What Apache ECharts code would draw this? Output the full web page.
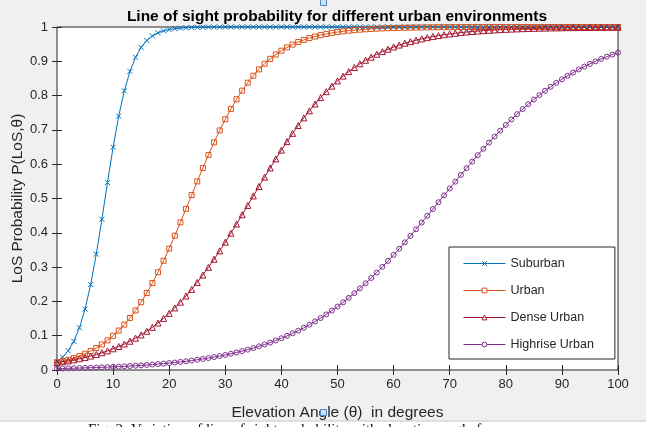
<!DOCTYPE html>
<html>
<head>
<meta charset="utf-8">
<script src="https://cdn.jsdelivr.net/npm/echarts@6/dist/echarts.min.js"></script>
<style>html,body{margin:0;padding:0;background:#f0f0f0;}#c{width:646px;height:427px;}</style>
</head>
<body>
<div id="c"></div>
<script>
const angles = Array.from({length: 101}, (_, i) => i);
const seriesNames = ['Suburban', 'Urban', 'Dense Urban', 'Highrise Urban'];
const xTicks = [0, 10, 20, 30, 40, 50, 60, 70, 80, 90, 100];
const yTicks = [0, 0.1, 0.2, 0.3, 0.4, 0.5, 0.6, 0.7, 0.8, 0.9, 1];

const suburban = [
0.0245,0.0372,0.0561,0.0837,0.1231,0.1775,0.2491,0.3377,0.4394,0.5465,
0.6494,0.7401,0.8140,0.8706,0.9118,0.9408,0.9607,0.9741,0.9830,0.9889,
0.9927,0.9953,0.9969,0.9980,0.9987,0.9991,0.9994,0.9996,0.9998,0.9998,
0.9999,0.9999,0.9999,1,1,1,1,1,1,1,
1,1,1,1,1,1,1,1,1,1,
1,1,1,1,1,1,1,1,1,1,
1,1,1,1,1,1,1,1,1,1,
1,1,1,1,1,1,1,1,1,1,
1,1,1,1,1,1,1,1,1,1,
1,1,1,1,1,1,1,1,1,1,
1];
const urban = [
0.0219,0.0256,0.0299,0.0349,0.0407,0.0474,0.0552,0.0641,0.0745,0.0863,
0.0997,0.1150,0.1324,0.1518,0.1736,0.1978,0.2244,0.2535,0.2849,0.3186,
0.3542,0.3917,0.4305,0.4699,0.5099,0.5498,0.5890,0.6271,0.6637,0.6984,
0.7310,0.7613,0.7892,0.8145,0.8375,0.8581,0.8765,0.8929,0.9072,0.9198,
0.9309,0.9405,0.9488,0.9561,0.9623,0.9677,0.9723,0.9763,0.9798,0.9827,
0.9852,0.9874,0.9892,0.9908,0.9922,0.9933,0.9943,0.9951,0.9958,0.9965,
0.9970,0.9974,0.9978,0.9981,0.9984,0.9986,0.9988,0.9990,0.9992,0.9993,
0.9994,0.9995,0.9996,0.9996,0.9997,0.9997,0.9998,0.9998,0.9998,0.9999,
0.9999,0.9999,0.9999,0.9999,0.9999,0.9999,0.9999,0.9999,0.9999,0.9999,
1,1,1,1,1,1,1,1,1,1,
1];
const denseUrban = [
0.0215,0.0239,0.0266,0.0296,0.0329,0.0366,0.0407,0.0452,0.0502,0.0557,
0.0618,0.0685,0.0758,0.0839,0.0928,0.1024,0.1130,0.1245,0.1370,0.1505,
0.1651,0.1809,0.1977,0.2158,0.2350,0.2553,0.2768,0.2993,0.3229,0.3474,
0.3727,0.3989,0.4255,0.4525,0.4798,0.5074,0.5349,0.5621,0.5890,0.6153,
0.6410,0.6659,0.6899,0.7129,0.7349,0.7557,0.7755,0.7941,0.8115,0.8277,
0.8428,0.8569,0.8699,0.8818,0.8928,0.9029,0.9121,0.9205,0.9282,0.9352,
0.9416,0.9473,0.9526,0.9573,0.9616,0.9654,0.9689,0.9721,0.9749,0.9775,
0.9798,0.9818,0.9837,0.9854,0.9869,0.9882,0.9894,0.9905,0.9915,0.9924,
0.9932,0.9939,0.9945,0.9951,0.9956,0.9960,0.9965,0.9968,0.9972,0.9975,
0.9977,0.9980,0.9982,0.9984,0.9985,0.9987,0.9988,0.9989,0.9991,0.9992,
0.9992];
const highriseUrban = [
0.0041,0.0045,0.0049,0.0053,0.0057,0.0062,0.0067,0.0072,0.0078,0.0085,
0.0092,0.0099,0.0107,0.0116,0.0126,0.0136,0.0147,0.0159,0.0173,0.0187,
0.0202,0.0218,0.0236,0.0255,0.0276,0.0298,0.0322,0.0348,0.0376,0.0406,
0.0438,0.0473,0.0510,0.0551,0.0594,0.0640,0.0690,0.0743,0.0799,0.0861,
0.0925,0.0995,0.1069,0.1148,0.1231,0.1320,0.1415,0.1515,0.1620,0.1732,
0.1850,0.1973,0.2103,0.2239,0.2381,0.2529,0.2683,0.2843,0.3009,0.3180,
0.3356,0.3536,0.3722,0.3910,0.4102,0.4297,0.4494,0.4693,0.4892,0.5092,
0.5292,0.5490,0.5688,0.5883,0.6075,0.6264,0.6449,0.6630,0.6806,0.6978,
0.7144,0.7304,0.7459,0.7607,0.7750,0.7886,0.8017,0.8141,0.8259,0.8371,
0.8477,0.8578,0.8672,0.8762,0.8846,0.8925,0.8999,0.9069,0.9135,0.9196,
0.9253];

const values = [suburban, urban, denseUrban, highriseUrban];
const colors = ['#0072BD', '#D95319', '#A2142F', '#7E2F8E'];
const symbols = ['path://M0,0L10,10M10,0L0,10', 'rect', 'triangle', 'circle'];
const symbolSizes = [5, 5, 6, 5];

const FONT = 'Liberation Sans, Arial, sans-serif';
const AX = '#262626';

const chart = echarts.init(document.getElementById('c'), null, {renderer: 'canvas'});

const series = seriesNames.map((name, k) => ({
  name: name,
  type: 'line',
  xAxisIndex: 0,
  yAxisIndex: 0,
  data: angles.map((a, i) => [a, values[k][i]]),
  symbol: symbols[k],
  symbolSize: symbolSizes[k],
  showAllSymbol: true,
  clip: false,
  animation: false,
  lineStyle: {color: colors[k], width: 1},
  itemStyle: {color: 'rgba(255,255,255,0)', borderColor: colors[k], borderWidth: 1},
  emphasis: {disabled: true}
}));

const option = {
  backgroundColor: '#f0f0f0',
  animation: false,
  title: {
    text: 'Line of sight probability for different urban environments',
    left: 332, top: 4, textAlign: 'center',
    textStyle: {fontFamily: FONT, fontSize: 15.5, fontWeight: 'bold', color: '#000'}
  },
  grid: {
    left: 57, right: 28, top: 27, bottom: 57,
    outerBoundsMode: 'none',
    containLabel: false,
    show: true, backgroundColor: '#ffffff', borderColor: AX, borderWidth: 1
  },
  legend: {
    data: seriesNames.map((n, k) => ({
      name: n,
      lineStyle: {color: colors[k], width: 1},
      itemStyle: {color: '#ffffff', borderColor: colors[k], borderWidth: 1}
    })),
    orient: 'vertical',
    left: 449, top: 247,
    padding: [10, 21, 8, 14],
    itemWidth: 42, itemHeight: 6, itemGap: 14,
    backgroundColor: '#ffffff',
    borderColor: AX, borderWidth: 1, borderRadius: 0,
    textStyle: {fontFamily: FONT, fontSize: 12.5, color: AX}
  },
  xAxis: [{
    type: 'value', min: xTicks[0], max: xTicks[xTicks.length - 1], interval: 10,
    position: 'bottom',
    name: 'Elevation Angle (\u03b8)  in degrees',
    nameLocation: 'middle', nameGap: 35,
    nameMoveOverlap: false,
    nameTextStyle: {fontFamily: FONT, fontSize: 15.5, color: AX},
    axisLine: {show: false},
    axisTick: {show: true, inside: true, length: 5, lineStyle: {color: AX}},
    axisLabel: {fontFamily: FONT, fontSize: 13, color: AX, margin: 8},
    splitLine: {show: false}
  }, {
    type: 'value', min: xTicks[0], max: xTicks[xTicks.length - 1], interval: 10,
    position: 'top',
    axisLine: {show: false},
    axisTick: {show: true, inside: true, length: 5, lineStyle: {color: AX}},
    axisLabel: {show: false},
    splitLine: {show: false}
  }],
  yAxis: [{
    type: 'value', min: yTicks[0], max: yTicks[yTicks.length - 1], interval: 0.1,
    position: 'left',
    name: 'LoS Probability P(LoS,\u03b8)',
    nameLocation: 'middle', nameGap: 31, nameRotate: 90,
    nameMoveOverlap: false,
    nameTextStyle: {fontFamily: FONT, fontSize: 15.5, color: AX},
    axisLine: {show: false},
    axisTick: {show: true, inside: true, length: 5, lineStyle: {color: AX}},
    axisLabel: {fontFamily: FONT, fontSize: 13, color: AX, margin: 9,
      formatter: v => String(Math.round(v * 10) / 10)},
    splitLine: {show: false}
  }, {
    type: 'value', min: yTicks[0], max: yTicks[yTicks.length - 1], interval: 0.1,
    position: 'right',
    axisLine: {show: false},
    axisTick: {show: true, inside: true, length: 5, lineStyle: {color: AX}},
    axisLabel: {show: false},
    splitLine: {show: false}
  }],
  series: series,
  graphic: [
    {type: 'rect', left: 0, top: 421, shape: {width: 646, height: 6}, style: {fill: '#ffffff'}, z: 100},
    {type: 'line', shape: {x1: 0, y1: 421, x2: 646, y2: 421}, style: {stroke: '#c8c8c8', lineWidth: 1}, z: 101},
    {type: 'text', left: 88, top: 423, z: 102,
      style: {text: 'Fig. 2: Variation of line of sight probability with elevation angle for',
        font: '15px "Liberation Serif", "Times New Roman", serif', fill: '#111'}},
    {type: 'rect', left: 320, top: -1, shape: {width: 6, height: 6},
      style: {fill: '#cfe0f5', stroke: '#4a86c8', lineWidth: 1}, z: 103},
    {type: 'rect', left: 320, top: 409, shape: {width: 6, height: 6},
      style: {fill: '#cfe0f5', stroke: '#4a86c8', lineWidth: 1}, z: 103}
  ]
};
chart.setOption(option);
</script>
</body>
</html>
